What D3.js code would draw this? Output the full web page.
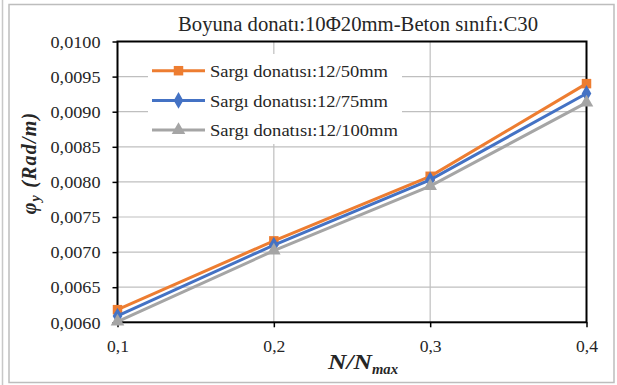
<!DOCTYPE html>
<html><head><meta charset="utf-8">
<script src="https://cdn.jsdelivr.net/npm/d3@7"></script>
<style>body{margin:0;background:#fff}svg{display:block}</style>
</head><body>
<script>
const xValues = [0.1, 0.2, 0.3, 0.4];
const xTickLabels = ["0,1", "0,2", "0,3", "0,4"];
const yTicks = [0.0060, 0.0065, 0.0070, 0.0075, 0.0080, 0.0085, 0.0090, 0.0095, 0.0100];
const seriesNames = ["Sargı donatısı:12/50mm", "Sargı donatısı:12/75mm", "Sargı donatısı:12/100mm"];
const s50 = [0.00618, 0.00716, 0.00808, 0.00940];
const s75 = [0.00609, 0.00710, 0.00803, 0.00926];
const s100 = [0.00601, 0.00702, 0.00794, 0.00913];
const colors = ["#ED7D31", "#4472C4", "#A5A5A5"];
const markers = [d3.symbolSquare, d3.symbolDiamond, d3.symbolTriangle];
const seriesVals = [s50, s75, s100];

const W = 617, H = 385;
const svg = d3.select("body").append("svg").attr("width", W).attr("height", H);
const serif = "'Liberation Serif','Times New Roman','DejaVu Serif Condensed','DejaVu Serif',serif";

// outer frames
svg.append("line").attr("x1", 2.5).attr("x2", 2.5).attr("y1", 0).attr("y2", H).attr("stroke", "#c8c8c8").attr("stroke-width", 1.5);
svg.append("rect").attr("x", 9).attr("y", 4.5).attr("width", 605).attr("height", 378)
  .attr("fill", "none").attr("stroke", "#bdbdbd").attr("stroke-width", 1.5);

const L = 117.5, R = 586.5, T = 41.5, B = 322.3;
const x = d3.scaleLinear().domain([0.1, 0.4]).range([L, R]);
const y = d3.scaleLinear().domain([0.006, 0.010]).range([B, T]);

// grid
svg.append("g").selectAll("line").data(yTicks.slice(1, -1)).join("line")
  .attr("x1", L).attr("x2", R).attr("y1", d => y(d)).attr("y2", d => y(d))
  .attr("stroke", "#bfbfbf").attr("stroke-width", 1.2);
svg.append("g").selectAll("line").data(xValues.slice(1, -1)).join("line")
  .attr("x1", d => x(d)).attr("x2", d => x(d)).attr("y1", T).attr("y2", B)
  .attr("stroke", "#bfbfbf").attr("stroke-width", 1.2);

// axes
const yAxis = d3.axisLeft(y).tickValues(yTicks).tickFormat(d => d3.format(".4f")(d).replace(".", ",")).tickSize(5).tickSizeOuter(0);
const gy = svg.append("g").attr("transform", `translate(${L},0)`).call(yAxis);
gy.select(".domain").remove();
gy.selectAll("line").attr("stroke", "#000").attr("stroke-width", 1.5);
gy.selectAll("text").attr("font-family", serif).attr("font-size", 16.5).attr("fill", "#262626").attr("x", -17).attr("dy", "0.35em")
  .attr("textLength", 50).attr("lengthAdjust", "spacingAndGlyphs");

const xAxis = d3.axisBottom(x).tickValues(xValues).tickFormat((d, i) => xTickLabels[i]).tickSize(5).tickSizeOuter(0);
const gx = svg.append("g").attr("transform", `translate(0,${B})`).call(xAxis);
gx.select(".domain").remove();
gx.selectAll("line").attr("stroke", "#000").attr("stroke-width", 1.5);
gx.selectAll("text").attr("font-family", serif).attr("font-size", 16).attr("fill", "#262626").attr("y", 18).attr("dy", "0.71em")
  .attr("textLength", 22).attr("lengthAdjust", "spacingAndGlyphs");

// frame of plot area
svg.append("rect").attr("x", L).attr("y", T).attr("width", R - L).attr("height", B - T)
  .attr("fill", "none").attr("stroke", "#000").attr("stroke-width", 2);

// legend background
const lg = svg.append("g");
lg.append("rect").attr("x", 148).attr("y", 54).attr("width", 254).attr("height", 90).attr("fill", "#fff");

// series
const line = d3.line().x((d, i) => x(xValues[i])).y(d => y(d));
seriesVals.forEach((vals, si) => {
  svg.append("path").datum(vals).attr("d", line).attr("fill", "none")
    .attr("stroke", colors[si]).attr("stroke-width", 3);
  svg.append("g").selectAll("path").data(vals).join("path")
    .attr("transform", (d, i) => `translate(${x(xValues[i])},${y(d)})`)
    .attr("d", d3.symbol().type(markers[si]).size(si === 0 ? 90 : 80))
    .attr("fill", colors[si]);
});

// legend items
const legendLens = [178, 178, 188];
seriesNames.forEach((name, i) => {
  const yy = 70.7 + i * 29.7;
  lg.append("line").attr("x1", 152).attr("x2", 205).attr("y1", yy).attr("y2", yy)
    .attr("stroke", colors[i]).attr("stroke-width", 3);
  lg.append("path").attr("transform", `translate(178.5,${yy})`)
    .attr("d", d3.symbol().type(markers[i]).size(i === 0 ? 90 : 80)).attr("fill", colors[i]);
  lg.append("text").attr("x", 210).attr("y", yy).attr("dy", "0.35em")
    .attr("font-family", serif).attr("font-size", 17.5).attr("fill", "#262626")
    .attr("textLength", legendLens[i]).attr("lengthAdjust", "spacingAndGlyphs").text(name);
});

// title
svg.append("text").attr("x", 358).attr("y", 31).attr("text-anchor", "middle")
  .attr("font-family", serif).attr("font-size", 20).attr("fill", "#262626")
  .attr("textLength", 360).attr("lengthAdjust", "spacingAndGlyphs")
  .text("Boyuna donatı:10Φ20mm-Beton sınıfı:C30");

// x title
const xt = svg.append("text").attr("x", 328).attr("y", 369)
  .attr("font-family", serif).attr("font-size", 21).attr("font-weight", "bold").attr("font-style", "italic").attr("fill", "#262626");
xt.append("tspan").attr("textLength", 44).attr("lengthAdjust", "spacingAndGlyphs").text("N/N");
xt.append("tspan").attr("font-size", 15).attr("dy", 5).attr("textLength", 26).attr("lengthAdjust", "spacingAndGlyphs").text("max");

// y title
const yt = svg.append("text").attr("transform", "translate(36,163) rotate(-90)").attr("text-anchor", "middle")
  .attr("font-family", serif).attr("font-size", 20).attr("font-weight", "bold").attr("font-style", "italic")
  .attr("letter-spacing", 1.2).attr("fill", "#262626");
yt.append("tspan").text("φ");
yt.append("tspan").attr("font-size", 14).attr("dy", 4).text("y");
yt.append("tspan").attr("dy", -4).text(" (Rad/m)");
</script>
</body></html>
